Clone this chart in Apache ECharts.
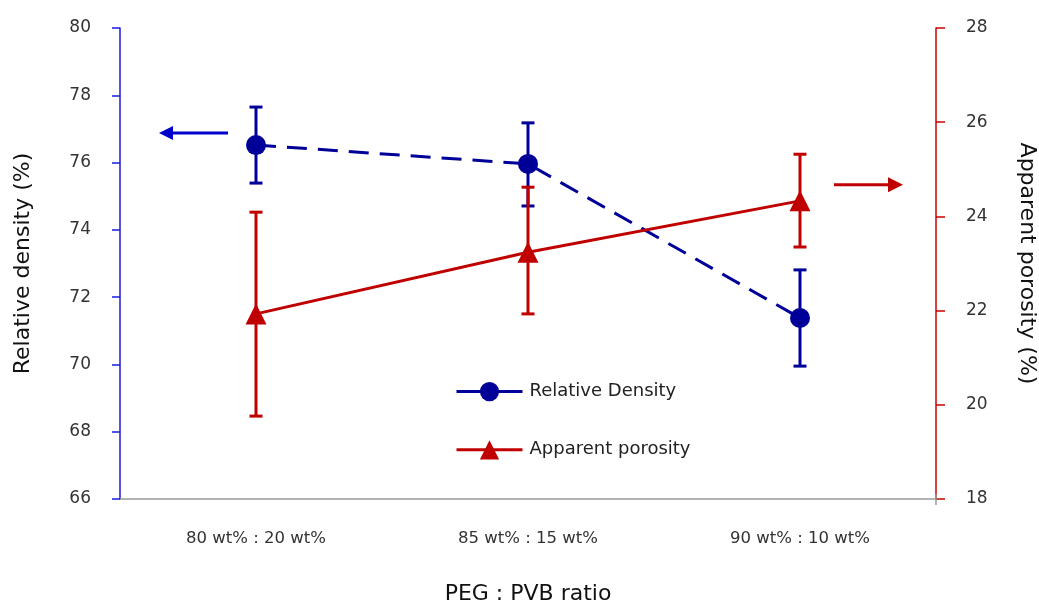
<!DOCTYPE html>
<html><head><meta charset="utf-8">
<script src="https://cdn.jsdelivr.net/npm/echarts@6/dist/echarts.min.js"></script>
<style>html,body{margin:0;padding:0;background:#fff}#c{width:1039px;height:602px}</style>
</head><body><div id="c"></div><script>
const categories = ['80 wt% : 20 wt%', '85 wt% : 15 wt%', '90 wt% : 10 wt%'];
const densityValues = [76.52, 75.96, 71.38];
const densityHigh = [77.65, 77.18, 72.81];
const densityLow = [75.39, 74.71, 69.95];
const porosityValues = [21.93, 23.24, 24.33];
const porosityHigh = [24.09, 24.62, 25.32];
const porosityLow = [19.76, 21.93, 23.35];
const leftAxisRange = [66, 80, 2];
const rightAxisRange = [18, 28, 2];
const densityArrowValue = 76.88;
const porosityArrowValue = 24.67;

const BLUE = '#000099', RED = '#c00000', AXBLUE = '#1a1ae0', AXRED = '#cc0000';
const FONT = 'DejaVu Sans';

function errorSeries(name, hi, lo, color, yIdx) {
  return {
    name: name + ' err', type: 'custom', yAxisIndex: yIdx, z: 1,
    data: categories.map((c, i) => [i, hi[i], lo[i]]),
    encode: { x: 0, y: [1, 2] },
    renderItem(params, api) {
      const x = api.value(0);
      const t = api.coord([x, api.value(1)]);
      const b = api.coord([x, api.value(2)]);
      const w = 6.5;
      const st = { stroke: color, lineWidth: 3 };
      return { type: 'group', children: [
        { type: 'line', shape: { x1: t[0], y1: t[1], x2: b[0], y2: b[1] }, style: st },
        { type: 'line', shape: { x1: t[0] - w, y1: t[1], x2: t[0] + w, y2: t[1] }, style: st },
        { type: 'line', shape: { x1: b[0] - w, y1: b[1], x2: b[0] + w, y2: b[1] }, style: st }
      ]};
    }
  };
}

const chart = echarts.init(document.getElementById('c'), null, { renderer: 'canvas' });
chart.setOption({
  animation: false,
  backgroundColor: '#fff',
  textStyle: { fontFamily: FONT },
  grid: { left: 120, right: 103, top: 28, bottom: 103, containLabel: false, outerBoundsMode: 'none' },
  legend: {
    data: ['Relative Density', 'Apparent porosity'],
    orient: 'vertical', left: 450, top: 377,
    itemWidth: 66, itemHeight: 24, itemGap: 39,
    lineStyle: { type: 'solid', width: 3 },
    textStyle: { fontFamily: FONT, fontSize: 18, color: '#222', padding: [0, 0, 0, 2] }
  },
  xAxis: {
    type: 'category', data: categories,
    name: 'PEG : PVB ratio', nameLocation: 'middle', nameGap: 84,
    nameTextStyle: { fontFamily: FONT, fontSize: 22, color: '#111' },
    axisLine: { lineStyle: { color: '#999', width: 1.5 } },
    axisTick: { alignWithLabel: true, length: 6, lineStyle: { color: '#999', width: 1.5 } },
    axisLabel: { margin: 31, fontSize: 16.5, color: '#333', fontFamily: FONT },
    splitLine: { show: false }
  },
  yAxis: [
    {
      type: 'value', min: leftAxisRange[0], max: leftAxisRange[1], interval: leftAxisRange[2],
      name: 'Relative density (%)', nameLocation: 'middle', nameGap: 86, nameRotate: 90,
      nameTextStyle: { fontFamily: FONT, fontSize: 22, color: '#111' },
      axisLine: { show: true, lineStyle: { color: AXBLUE, width: 1.5 } },
      axisTick: { show: true, length: 8, lineStyle: { color: AXBLUE, width: 1.5 } },
      axisLabel: { margin: 29, fontSize: 17, color: '#333', fontFamily: FONT },
      splitLine: { show: false }
    },
    {
      type: 'value', min: rightAxisRange[0], max: rightAxisRange[1], interval: rightAxisRange[2],
      position: 'right',
      name: 'Apparent porosity (%)', nameLocation: 'middle', nameGap: 80, nameRotate: -90,
      nameTextStyle: { fontFamily: FONT, fontSize: 22, color: '#111' },
      axisLine: { show: true, lineStyle: { color: AXRED, width: 1.5 } },
      axisTick: { show: true, length: 9, lineStyle: { color: AXRED, width: 1.5 } },
      axisLabel: { margin: 30, fontSize: 17, color: '#333', fontFamily: FONT },
      splitLine: { show: false }
    }
  ],
  series: [
    errorSeries('Relative Density', densityHigh, densityLow, BLUE, 0),
    errorSeries('Apparent porosity', porosityHigh, porosityLow, RED, 1),
    {
      name: 'Relative Density', type: 'line', yAxisIndex: 0, z: 3,
      data: densityValues, symbol: 'circle', symbolSize: 20,
      lineStyle: { color: BLUE, width: 3, type: [20, 11] },
      itemStyle: { color: BLUE }
    },
    {
      name: 'Apparent porosity', type: 'line', yAxisIndex: 1, z: 3,
      data: porosityValues, symbol: 'triangle', symbolSize: 21,
      lineStyle: { color: RED, width: 3 },
      itemStyle: { color: RED }
    }
  ]
});

function arrow(x1, x2, y, color, head) {
  const dir = Math.sign(x2 - x1);
  return [
    { type: 'line', shape: { x1: x1, y1: y, x2: x2 - dir * head, y2: y }, style: { stroke: color, lineWidth: 3 }, z: 10 },
    { type: 'polygon', shape: { points: [[x2, y], [x2 - dir * head, y - head / 2], [x2 - dir * head, y + head / 2]] }, style: { fill: color }, z: 10 }
  ];
}
const pA = chart.convertToPixel({ xAxisIndex: 0, yAxisIndex: 0 }, [0, densityArrowValue]);
const pB = chart.convertToPixel({ xAxisIndex: 0, yAxisIndex: 1 }, [2, porosityArrowValue]);
const ax = chart.getModel().getComponent('xAxis', 0).axis;
const xEnd = ax.toGlobalCoord(ax.getExtent()[1]);
const yBase = chart.convertToPixel({ yAxisIndex: 0 }, leftAxisRange[0]);
chart.setOption({
  graphic: [
    ...arrow(pA[0] - 28, pA[0] - 97, pA[1], '#0000cc', 14),
    ...arrow(pB[0] + 34, pB[0] + 103, pB[1], RED, 15),
    { type: 'line', shape: { x1: xEnd, y1: yBase - 5, x2: xEnd, y2: yBase + 6 }, style: { stroke: '#999', lineWidth: 1.5 }, z: 5 }
  ]
});
</script></body></html>
